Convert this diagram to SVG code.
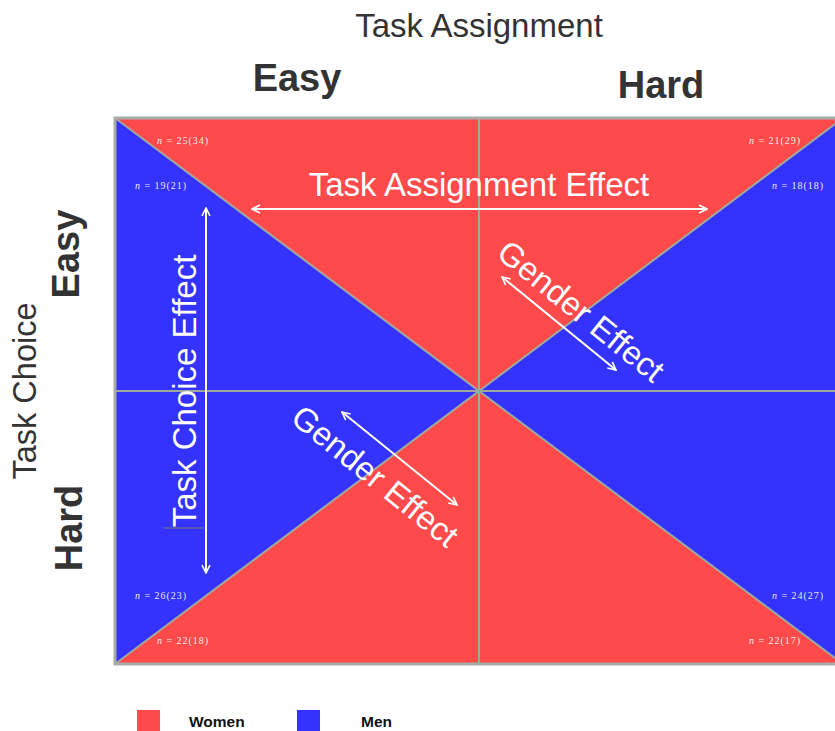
<svg xmlns="http://www.w3.org/2000/svg" width="835" height="731" viewBox="0 0 835 731">
<defs>
<style>
.women{fill:#fe4a4a}
.men{fill:#3333fd}
.grid{stroke:#9da89f;stroke-width:2;fill:none}
.ax{font-family:"Liberation Sans",Arial,sans-serif;fill:#333}
.lvl{font-family:"Liberation Sans",Arial,sans-serif;font-weight:bold;font-size:38px;fill:#333}
.eff{font-family:"Liberation Sans",Arial,sans-serif;font-size:33px;fill:#fff}
.n{font-family:"Liberation Serif","Times New Roman",serif;font-size:10px;fill:#fff;fill-opacity:0.92}
.arr{stroke:#fff;stroke-width:2;fill:none}
.leg{font-family:"Liberation Sans",Arial,sans-serif;font-weight:bold;font-size:15.5px;fill:#111}
</style>
<marker id="ah" viewBox="0 0 10 10" refX="9" refY="5" markerWidth="10" markerHeight="10" markerUnits="userSpaceOnUse" orient="auto-start-reverse">
<path d="M1,1 L9,5 L1,9" stroke="#fff" stroke-width="1.6" fill="none"/>
</marker>
</defs>
<rect width="835" height="731" fill="#fff"/>

<g id="axis-titles">
<text class="ax" x="479" y="37" font-size="33" text-anchor="middle">Task Assignment</text>
<text class="lvl" x="297" y="91" text-anchor="middle">Easy</text>
<text class="lvl" x="661" y="98" text-anchor="middle">Hard</text>
<text class="ax" font-size="32.5" text-anchor="middle" transform="translate(36,391) rotate(-90)">Task Choice</text>
<text class="lvl" text-anchor="middle" transform="translate(79,254) rotate(-90)">Easy</text>
<text class="lvl" text-anchor="middle" transform="translate(82,528) rotate(-90)">Hard</text>
</g>

<g id="quadrant-grid">
<polygon class="women" points="115,118 843,118 479,391"/>
<polygon class="women" points="115,664 843,664 479,391"/>
<polygon class="men" points="115,118 479,391 115,664"/>
<polygon class="men" points="843,118 479,391 843,664"/>
<line class="grid" x1="115" y1="391" x2="843" y2="391"/>
<line class="grid" x1="479" y1="118" x2="479" y2="664"/>
<line class="grid" x1="115" y1="118" x2="843" y2="664"/>
<line class="grid" x1="843" y1="118" x2="115" y2="664"/>
<rect x="115" y="118" width="728" height="546" fill="none" stroke="#a8aca8" stroke-width="3"/>
</g>

<g id="counts">
<text class="n" x="157" y="144" textLength="51" lengthAdjust="spacing"><tspan font-style="italic">n</tspan> = 25(34)</text>
<text class="n" x="135" y="189" textLength="51" lengthAdjust="spacing"><tspan font-style="italic">n</tspan> = 19(21)</text>
<text class="n" x="749" y="144" textLength="51" lengthAdjust="spacing"><tspan font-style="italic">n</tspan> = 21(29)</text>
<text class="n" x="772" y="189" textLength="51" lengthAdjust="spacing"><tspan font-style="italic">n</tspan> = 18(18)</text>
<text class="n" x="135" y="599" textLength="51" lengthAdjust="spacing"><tspan font-style="italic">n</tspan> = 26(23)</text>
<text class="n" x="157" y="644" textLength="51" lengthAdjust="spacing"><tspan font-style="italic">n</tspan> = 22(18)</text>
<text class="n" x="772" y="599" textLength="51" lengthAdjust="spacing"><tspan font-style="italic">n</tspan> = 24(27)</text>
<text class="n" x="749" y="644" textLength="51" lengthAdjust="spacing"><tspan font-style="italic">n</tspan> = 22(17)</text>
</g>

<g id="connectors">
<line class="arr" x1="252" y1="209" x2="707" y2="209" marker-start="url(#ah)" marker-end="url(#ah)"/>
<line class="arr" x1="206" y1="208" x2="206" y2="573" marker-start="url(#ah)" marker-end="url(#ah)"/>
<line class="arr" x1="502" y1="277" x2="616" y2="370" marker-start="url(#ah)" marker-end="url(#ah)"/>
<line class="arr" x1="342" y1="412" x2="457" y2="505" marker-start="url(#ah)" marker-end="url(#ah)"/>
<line x1="163" y1="528" x2="204" y2="528" stroke="#777" stroke-width="1"/>
</g>

<g id="effect-labels">
<text class="eff" x="479" y="196" text-anchor="middle">Task Assignment Effect</text>
<text class="eff" text-anchor="middle" transform="translate(196,391) rotate(-90)">Task Choice Effect</text>
<text class="eff" text-anchor="middle" transform="translate(574,320) rotate(39)">Gender Effect</text>
<text class="eff" text-anchor="middle" transform="translate(368,485) rotate(39)">Gender Effect</text>
</g>

<g id="legend">
<rect x="137" y="710" width="23" height="23" class="women"/>
<text class="leg" x="189" y="727">Women</text>
<rect x="297" y="710" width="23" height="23" class="men"/>
<text class="leg" x="361" y="727">Men</text>
</g>
</svg>
